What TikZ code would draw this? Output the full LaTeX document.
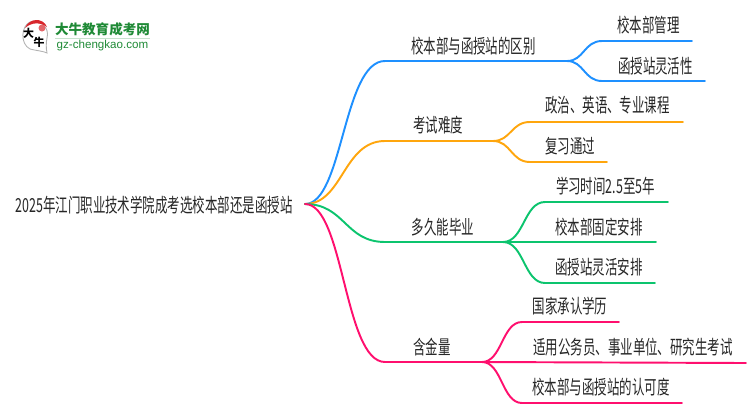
\documentclass[tikz,border=0pt]{standalone}
\usepackage{fontspec}
\setmainfont{Liberation Sans}
\newfontfamily\cjk[FakeStretch=0.645]{Noto Sans CJK SC}
\newfontfamily\cjklogo{Noto Sans CJK SC}
\definecolor{lineBlue}{HTML}{1E90FF}
\definecolor{lineOrange}{HTML}{FFA60D}
\definecolor{lineGreen}{HTML}{0CC46E}
\definecolor{linePink}{HTML}{FF0F6E}
\definecolor{logoGreen}{HTML}{1F8A36}
\definecolor{logoRed}{HTML}{D8262C}
\begin{document}
\begin{tikzpicture}[x=0.02cm,y=-0.02cm]
\tikzset{topic/.style={
anchor=center,inner sep=0pt,text=black!85,
font=\cjk\fontsize{11pt}{12pt}\selectfont}}

\tikzset{branch/.style={line width=1.1pt,line cap=round}}

\useasboundingbox (0,0) rectangle (750,410);

% logo
\draw[gray!60,line width=0.5pt,fill=white]
(30,49) .. controls (20,44) and (21,26) .. (30,22)
.. controls (40,18) and (50,28) .. (47,38)
.. controls (46,43) and (46,48) .. (47,53)
.. controls (43,51) and (38,51) .. (30,49);
\fill[logoRed]
(25,28) .. controls (29,18) and (43,17) .. (47,27)
.. controls (40,22) and (32,22) .. (25,28);
\fill[logoRed!70] (42,28) circle (3.5);
\path
(28.5,33) node[inner sep=0pt,name=uLogoBig] {\cjklogo\bfseries\fontsize{6.2pt}{7pt}\selectfont 大}
(39,42) node[inner sep=0pt,name=uLogoOx] {\cjklogo\bfseries\fontsize{6.2pt}{7pt}\selectfont 牛}
(102.5,29.5) node[inner sep=0pt,text=logoGreen,name=uLogoName]
{\cjklogo\bfseries\fontsize{7.7pt}{9pt}\selectfont 大牛教育成考网}
(102.5,45) node[inner sep=0pt,text=logoGreen,name=uLogoSite]
{\fontsize{6.6pt}{8pt}\selectfont gz-chengkao.com};
\draw[logoGreen!25,line width=0.5pt] (55,38.5) -- (150,38.5);

% root
\path
(154,205) node[topic,name=uRootText] {2025年江门职业技术学院成考选校本部还是函授站}
(305,204) coordinate (uRoot);

% first level
\path
(385,61) coordinate (uCampusL) (567,61) coordinate (uCampusR)
(385,141) coordinate (uExamL) (493,141) coordinate (uExamR)
(385,242) coordinate (uTimeL) (503,242) coordinate (uTimeR)
(385,362) coordinate (uValueL) (482,362) coordinate (uValueR);

\draw[branch,lineBlue] (uRoot) .. controls (343,204) and (343,61) .. (uCampusL) -- (uCampusR);
\draw[branch,lineOrange] (uRoot) .. controls (343,204) and (343,141) .. (uExamL) -- (uExamR);
\draw[branch,lineGreen] (uRoot) .. controls (345,204) and (345,242) .. (uTimeL) -- (uTimeR);
\draw[branch,linePink] (uRoot) .. controls (344,204) and (344,362) .. (uValueL) -- (uValueR);

\path
(473.5,46) node[topic,name=uCampus] {校本部与函授站的区别}
(438,125) node[topic,name=uExam] {考试难度}
(443,227) node[topic,name=uTime] {多久能毕业}
(432,347) node[topic,name=uValue] {含金量};

% second level
\path
(692,41) coordinate (uManageEnd)
(705,81) coordinate (uFlexEnd)
(683,122) coordinate (uSubjectEnd)
(607,162) coordinate (uPassEnd)
(668,202) coordinate (uYearsEnd)
(656,242) coordinate (uFixedEnd)
(655,283) coordinate (uFlexPlanEnd)
(619,322) coordinate (uDegreeEnd)
(746,363) coordinate (uJobsEnd)
(682,403) coordinate (uTrustEnd);

\draw[branch,lineBlue] (uCampusR) .. controls (584,61) and (584,41) .. (602,41) -- (uManageEnd);
\draw[branch,lineBlue] (uCampusR) .. controls (584,61) and (584,81) .. (602,81) -- (uFlexEnd);
\draw[branch,lineOrange] (uExamR) .. controls (511,141) and (511,122) .. (530,122) -- (uSubjectEnd);
\draw[branch,lineOrange] (uExamR) .. controls (511,141) and (511,162) .. (530,162) -- (uPassEnd);
\draw[branch,lineGreen] (uTimeR) .. controls (524,242) and (524,202) .. (545,202) -- (uYearsEnd);
\draw[branch,lineGreen] (uTimeR) -- (uFixedEnd);
\draw[branch,lineGreen] (uTimeR) .. controls (524,242) and (524,283) .. (545,283) -- (uFlexPlanEnd);
\draw[branch,linePink] (uValueR) .. controls (502,362) and (502,322) .. (522,322) -- (uDegreeEnd);
\draw[branch,linePink] (uValueR) -- (uJobsEnd);
\draw[branch,linePink] (uValueR) .. controls (502,362) and (502,403) .. (522,403) -- (uTrustEnd);

\path
(648.5,25) node[topic,name=uManage] {校本部管理}
(655.5,66) node[topic,name=uFlex] {函授站灵活性}
(607.5,105) node[topic,name=uSubject] {政治、英语、专业课程}
(570,146) node[topic,name=uPass] {复习通过}
(605.5,186) node[topic,name=uYears] {学习时间2.5至5年}
(599,227) node[topic,name=uFixed] {校本部固定安排}
(599,267) node[topic,name=uFlexPlan] {函授站灵活安排}
(570,306) node[topic,name=uDegree] {国家承认学历}
(633,347) node[topic,name=uJobs] {适用公务员、事业单位、研究生考试}
(601,387) node[topic,name=uTrust] {校本部与函授站的认可度};

\end{tikzpicture}
\end{document}
